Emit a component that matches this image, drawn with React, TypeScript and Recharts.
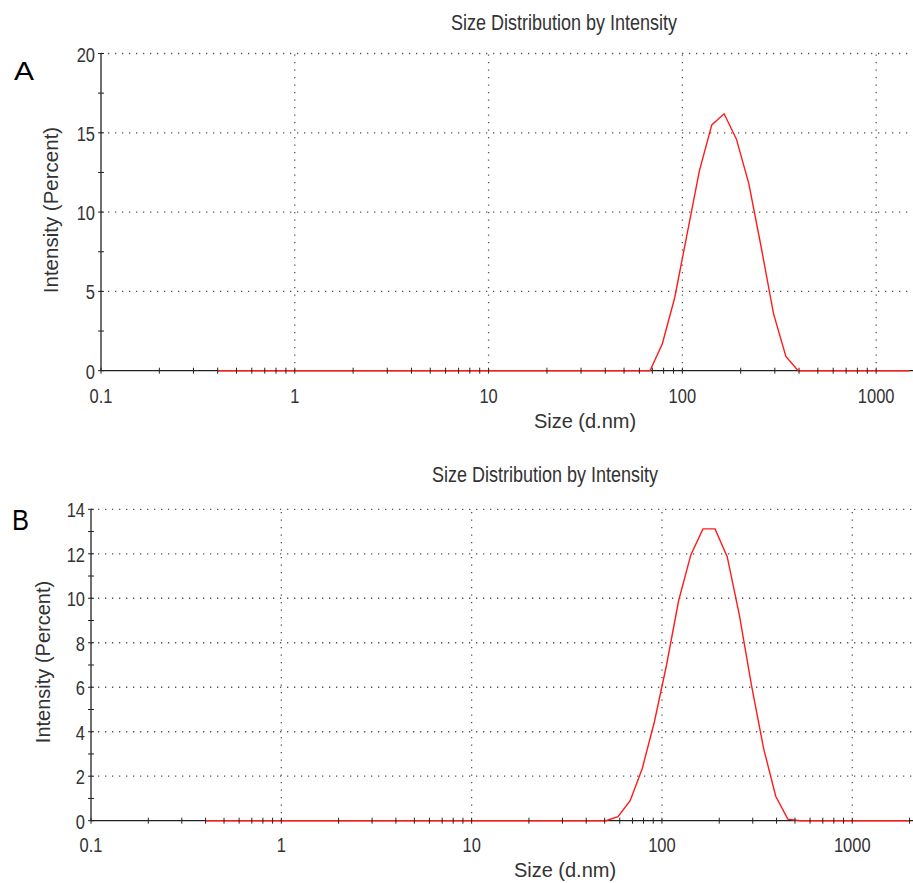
import React from "react";
import { LineChart, Line, XAxis, YAxis, ReferenceLine } from "recharts";

// Malvern size bins (d.nm)
const sizes = [
  0.4, 0.4632, 0.5365, 0.6213, 0.7195, 0.8332, 0.9649, 1.117, 1.294, 1.499,
  1.736, 2.01, 2.328, 2.696, 3.122, 3.615, 4.187, 4.849, 5.615, 6.503,
  7.531, 8.721, 10.1, 11.7, 13.54, 15.69, 18.17, 21.04, 24.36, 28.21,
  32.67, 37.84, 43.82, 50.75, 58.77, 68.06, 78.82, 91.28, 105.7, 122.4,
  141.8, 164.2, 190.1, 220.2, 255.0, 295.3, 342.0, 396.1, 458.7, 531.2,
  615.1, 712.4, 825.0, 955.4, 1106, 1281, 1484, 1718, 1990, 2305,
];

// Intensity (%) chart A
const intensityA = [
  0, 0, 0, 0, 0, 0, 0, 0, 0, 0,
  0, 0, 0, 0, 0, 0, 0, 0, 0, 0,
  0, 0, 0, 0, 0, 0, 0, 0, 0, 0,
  0, 0, 0, 0, 0, 0, 1.7, 4.6, 8.6, 12.6,
  15.5, 16.2, 14.6, 11.8, 7.8, 3.6, 0.9, 0, 0, 0,
  0, 0, 0, 0, 0, 0, 0, 0, 0, 0,
];

// Intensity (%) chart B
const intensityB = [
  0, 0, 0, 0, 0, 0, 0, 0, 0, 0,
  0, 0, 0, 0, 0, 0, 0, 0, 0, 0,
  0, 0, 0, 0, 0, 0, 0, 0, 0, 0,
  0, 0, 0, 0, 0.18, 0.9, 2.35, 4.45, 7.0, 9.9,
  11.95, 13.12, 13.12, 11.87, 9.25, 6.1, 3.25, 1.1, 0.07, 0,
  0, 0, 0, 0, 0, 0, 0, 0, 0, 0,
];

const xDomainA: [number, number] = [0.1, 1549];
const xDomainB: [number, number] = [0.1, 2085];

const xTicksA = [
  0.1, 0.2, 0.3, 0.4, 0.5, 0.6, 0.7, 0.8, 0.9,
  1, 2, 3, 4, 5, 6, 7, 8, 9,
  10, 20, 30, 40, 50, 60, 70, 80, 90,
  100, 200, 300, 400, 500, 600, 700, 800, 900,
  1000,
];
const xTicksB = [
  0.1, 0.2, 0.3, 0.4, 0.5, 0.6, 0.7, 0.8, 0.9,
  1, 2, 3, 4, 5, 6, 7, 8, 9,
  10, 20, 30, 40, 50, 60, 70, 80, 90,
  100, 200, 300, 400, 500, 600, 700, 800, 900,
  1000, 2000,
];
const xLabels = [0.1, 1, 10, 100, 1000];
const xGrid = [1, 10, 100, 1000];

const yTicksA = [0, 2.5, 5, 7.5, 10, 12.5, 15, 17.5, 20];
const yLabelsA = [0, 5, 10, 15, 20];
const yTicksB = [0, 1, 2, 3, 4, 5, 6, 7, 8, 9, 10, 11, 12, 13, 14];
const yLabelsB = [0, 2, 4, 6, 8, 10, 12, 14];

const title = "Size Distribution by Intensity";
const xTitle = "Size (d.nm)";
const yTitle = "Intensity (Percent)";

const FONT = "'Liberation Sans', Arial, sans-serif";
const TXT = "#333";
const AX = "#222";

const dataA = sizes
  .map((s, i) => ({ size: s, v: intensityA[i] }))
  .filter((d) => d.size <= xDomainA[1]);
const dataB = sizes
  .map((s, i) => ({ size: s, v: intensityB[i] }))
  .filter((d) => d.size <= xDomainB[1]);

const makeXTick = (labelOffset: number) => (props: any) => {
  const { x, y, payload } = props;
  const v = payload.value;
  return (
    <g>
      <line x1={x} x2={x} y1={y - 3} y2={y + 3} stroke={AX} strokeWidth={1} />
      {xLabels.includes(v) && (
        <text
          transform={`translate(${x},${y + labelOffset}) scale(1,1.27)`}
          textAnchor="middle"
          fontSize={16.5}
          fontFamily={FONT}
          fill={TXT}
        >
          {String(v)}
        </text>
      )}
    </g>
  );
};

const makeYTick = (labels: number[]) => (props: any) => {
  const { x, y, payload } = props;
  const v = payload.value;
  return (
    <g>
      <line x1={x - 3} x2={x + 3} y1={y} y2={y} stroke={AX} strokeWidth={1} />
      {labels.includes(v) && (
        <text
          transform={`translate(${x - 6},${y + 8}) scale(1,1.27)`}
          textAnchor="end"
          fontSize={16.5}
          fontFamily={FONT}
          fill={TXT}
        >
          {String(v)}
        </text>
      )}
    </g>
  );
};

function Panel(props: {
  data: any[];
  width: number;
  height: number;
  margin: any;
  xDomain: [number, number];
  xTicks: number[];
  yDomain: [number, number];
  yTicks: number[];
  yLabels: number[];
  xLabelOffset: number;
}) {
  const { data, width, height, margin, xDomain, xTicks, yDomain, yTicks, yLabels, xLabelOffset } = props;
  return (
    <LineChart width={width} height={height} data={data} margin={margin}>
      <XAxis
        dataKey="size"
        type="number"
        scale="log"
        domain={xDomain}
        ticks={xTicks}
        interval={0}
        tickSize={0}
        tickMargin={0}
        tickLine={false}
        height={30}
        axisLine={false}
        tick={makeXTick(xLabelOffset)}
      />
      <YAxis
        type="number"
        domain={yDomain}
        ticks={yTicks}
        interval={0}
        tickSize={0}
        tickMargin={0}
        tickLine={false}
        width={40}
        axisLine={{ stroke: AX, strokeWidth: 1.3 }}
        tick={makeYTick(yLabels)}
      />
      {yLabels
        .filter((v) => v > 0)
        .map((v) => (
          <ReferenceLine key={"h" + v} y={v} stroke="#555" strokeWidth={1.3} strokeDasharray="1.3 5.7" />
        ))}
      {xGrid.map((v) => (
        <ReferenceLine key={"v" + v} x={v} stroke="#555" strokeWidth={1.3} strokeDasharray="1.3 6.2" />
      ))}
      <ReferenceLine y={0} stroke={AX} strokeWidth={1.3} />
      <Line
        type="linear"
        dataKey="v"
        stroke="#ff1a1a"
        strokeWidth={1.4}
        dot={false}
        activeDot={false}
        isAnimationActive={false}
      />
    </LineChart>
  );
}

export default function App() {
  return (
    <div
      style={{
        position: "absolute",
        left: 0,
        top: 0,
        width: 913,
        height: 883,
        background: "#fff",
        overflow: "hidden",
      }}
    >
      <div style={{ position: "absolute", left: 0, top: 0 }}>
        <Panel
          data={dataA}
          width={913}
          height={440}
          margin={{ top: 53.5, right: 0, left: 61, bottom: 39.3 }}
          xDomain={xDomainA}
          xTicks={xTicksA}
          yDomain={[0, 20]}
          yTicks={yTicksA}
          yLabels={yLabelsA}
          xLabelOffset={32}
        />
      </div>
      <div style={{ position: "absolute", left: 0, top: 450 }}>
        <Panel
          data={dataB}
          width={913}
          height={433}
          margin={{ top: 59.3, right: 0, left: 51, bottom: 32.3 }}
          xDomain={xDomainB}
          xTicks={xTicksB}
          yDomain={[0, 14]}
          yTicks={yTicksB}
          yLabels={yLabelsB}
          xLabelOffset={31}
        />
      </div>
      <svg
        width={913}
        height={883}
        style={{ position: "absolute", left: 0, top: 0, pointerEvents: "none" }}
        fontFamily={FONT}
      >
        <text transform="translate(14,80) scale(1.2,1)" fontSize={25} fill="#000">A</text>
        <text transform="translate(12,530) scale(0.85,1)" fontSize={30} fill="#000">B</text>

        <text transform="translate(564,30) scale(1,1.2)" textAnchor="middle" fontSize={18} fill={TXT}>
          {title}
        </text>
        <text transform="translate(545,482) scale(1,1.2)" textAnchor="middle" fontSize={18} fill={TXT}>
          {title}
        </text>

        <text x={585} y={428} textAnchor="middle" fontSize={20} fill={TXT}>
          {xTitle}
        </text>
        <text x={565} y={877} textAnchor="middle" fontSize={20} fill={TXT}>
          {xTitle}
        </text>

        <text transform="translate(58,210) rotate(-90)" textAnchor="middle" fontSize={20.5} fill={TXT}>
          {yTitle}
        </text>
        <text transform="translate(50,662) rotate(-90)" textAnchor="middle" fontSize={20} fill={TXT}>
          {yTitle}
        </text>
      </svg>
    </div>
  );
}
